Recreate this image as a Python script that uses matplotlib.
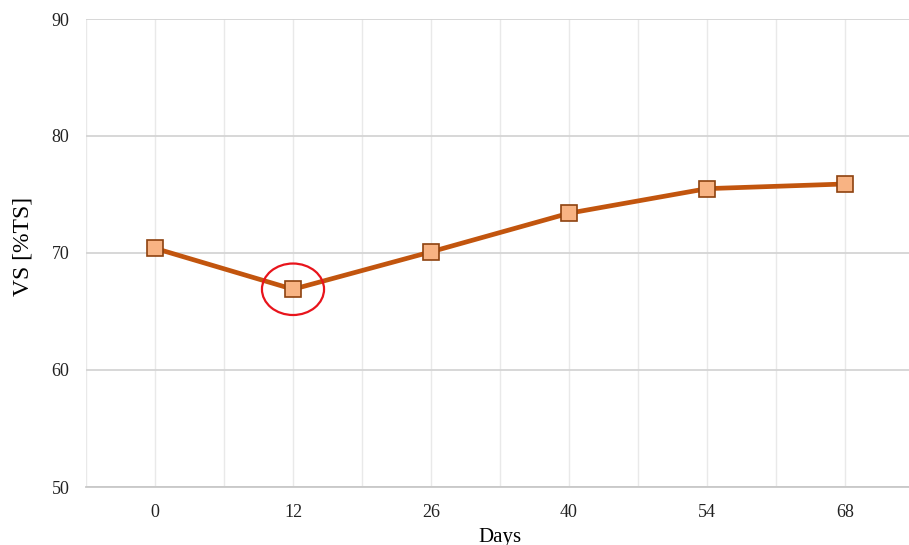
import matplotlib
matplotlib.use('Agg')
import matplotlib.pyplot as plt
from matplotlib.patches import Ellipse
import numpy as np

days = ['0', '12', '26', '40', '54', '68']
vs = [70.4, 66.9, 70.1, 73.4, 75.5, 75.9]

plt.rcParams['font.family'] = ['Liberation Serif', 'DejaVu Serif']

fig = plt.figure(figsize=(9.09, 5.45), dpi=100)
ax = fig.add_axes([86/909, 1 - 487/545, 828/909, 468/545])

x = np.arange(len(days))
ax.plot(x, vs, color='#C2550E', lw=3.4, marker='s', ms=12,
        mfc='#F8B383', mec='#8E420F', mew=1.2, zorder=3)

# highlight the dip
ax.add_patch(Ellipse((x[1], vs[1]), 0.45, 4.4, fill=False,
                     edgecolor='#E8141C', lw=1.6, zorder=4))

ax.set_xlim(-0.5, len(days) - 0.5)
ax.set_ylim(50, 90)
ax.set_yticks([50, 60, 70, 80, 90])
ax.set_xticks(x)
ax.set_xticklabels(days)
ax.set_xticks(np.arange(-0.5, len(days), 1.0), minor=True)

ax.grid(axis='y', color='#d4d4d4', lw=1.3)
ax.grid(axis='x', which='both', color='#e9e9e9', lw=1.0)
ax.set_axisbelow(True)
for s in ax.spines.values():
    s.set_visible(False)
ax.spines['bottom'].set_visible(True)
ax.spines['bottom'].set_color('#c8c8c8')
ax.spines['bottom'].set_linewidth(1.3)
ax.tick_params(which='both', length=0, labelsize=13, colors='#222222')
ax.tick_params(axis='y', pad=12)
ax.tick_params(axis='x', pad=12)

ax.set_xlabel('Days', fontsize=15, labelpad=5)
ax.set_ylabel('VS [%TS]', fontsize=17)
ax.yaxis.set_label_coords(-0.064, 0.513)

fig.savefig('out.png', dpi=100)
